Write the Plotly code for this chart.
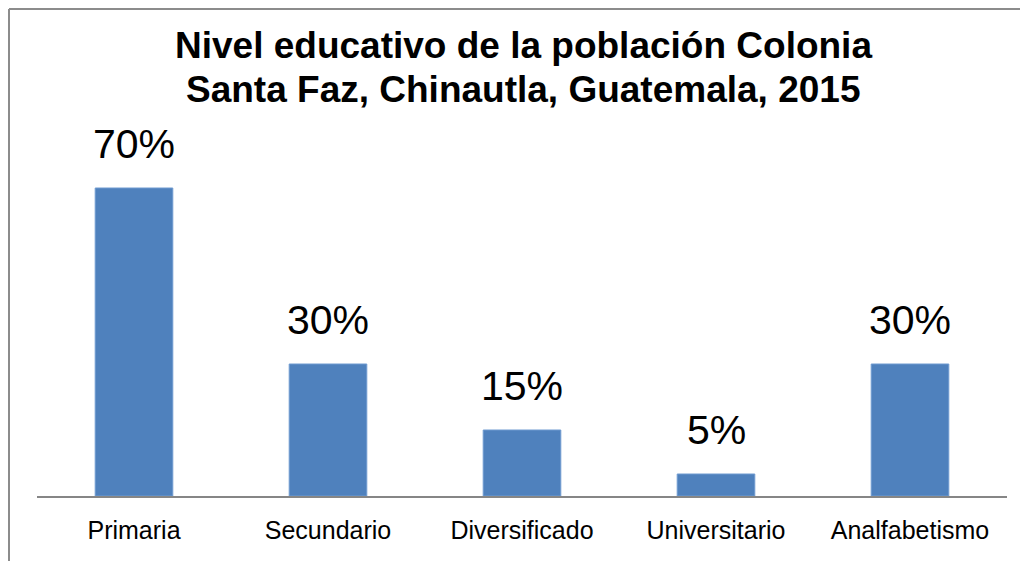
import plotly.graph_objects as go

categories = ["Primaria", "Secundario", "Diversificado", "Universitario", "Analfabetismo"]
values = [70, 30, 15, 5, 30]
labels = ["70%", "30%", "15%", "5%", "30%"]
title_lines = ["Nivel educativo de la población Colonia", "Santa Faz, Chinautla, Guatemala, 2015"]

# page has an 8px body margin, so the figure is drawn 8px smaller and offset
OFF = 8
W, H = 1028 - OFF, 561 - OFF
L, R, B, T = 29, 21, 65, 136
plot_h = H - T - B
plot_w = W - L - R

fig = go.Figure()
fig.add_trace(go.Bar(
    x=categories, y=values, width=0.4,
    marker=dict(color="#4F81BD", line=dict(color="#6F9AD0", width=1)),
    hoverinfo="skip",
))

label_font = dict(family="Liberation Sans, Arial", size=41, color="#000000")
for c, v, t in zip(categories, values, labels):
    fig.add_annotation(x=c, y=v, text=t, showarrow=False, yanchor="bottom",
                       yshift=19, font=label_font)

def py(ypx):  # reference page pixel -> paper
    return (H - B - (ypx - OFF)) / plot_h

def px(xpx):
    return ((xpx - OFF) - L) / plot_w

title_font = dict(family="Liberation Sans, Arial", size=37, color="#000000")
fig.add_annotation(x=px(523), y=py(45), xref="paper", yref="paper", text="<b>" + title_lines[0] + "</b>",
                   showarrow=False, yanchor="middle", font=title_font)
fig.add_annotation(x=px(523), y=py(89), xref="paper", yref="paper", text="<b>" + title_lines[1] + "</b>",
                   showarrow=False, yanchor="middle", font=title_font)

# chart border
fig.add_shape(type="line", xref="paper", yref="paper", x0=px(9), x1=px(9), y0=py(OFF + 1), y1=py(561),
              line=dict(color="#8C8C8C", width=2))
fig.add_shape(type="line", xref="paper", yref="paper", x0=px(9), x1=px(1028), y0=py(OFF + 1), y1=py(OFF + 1),
              line=dict(color="#8C8C8C", width=2))

fig.update_layout(
    width=W, height=H,
    margin=dict(l=L, r=R, t=T, b=B, pad=0),
    paper_bgcolor="white", plot_bgcolor="white",
    showlegend=False,
    xaxis=dict(showline=True, linecolor="#868686", linewidth=2, ticks="",
               tickfont=dict(family="Liberation Sans, Arial", size=25, color="#000000"),
               ticklabelstandoff=11, showgrid=False, zeroline=False),
    yaxis=dict(range=[0, 80], visible=False, showgrid=False, zeroline=False),
)

fig.write_html("out.html")
